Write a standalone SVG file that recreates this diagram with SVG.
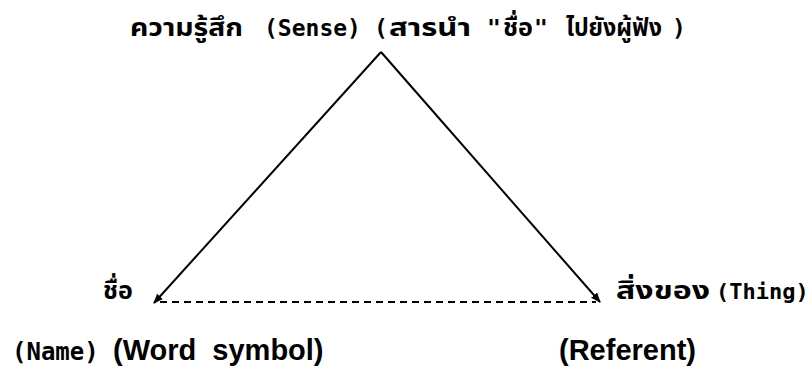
<svg xmlns="http://www.w3.org/2000/svg" width="812" height="367" viewBox="0 0 812 367">
<style>
.th{font-family:"Tlwg Typo","Tlwg Mono","Noto Sans Thai","Loma","DejaVu Sans Mono",sans-serif;font-weight:bold;font-size:25px;fill:#000}
.mo{font-family:"DejaVu Sans Mono","Liberation Mono",monospace;font-weight:bold;font-size:23px;fill:#000}
.ar{font-family:"Liberation Sans",Arial,sans-serif;font-weight:bold;font-size:29px;fill:#000;white-space:pre}
.ln{stroke:#000;stroke-width:2;fill:none}
.dash{stroke:#000;stroke-width:2;fill:none;stroke-dasharray:7 5}
</style>
<defs>
<marker id="ah" viewBox="0 0 10 10" refX="9" refY="5" markerWidth="5" markerHeight="5" orient="auto" markerUnits="strokeWidth">
<path d="M0,1 L10,5 L0,9 Z" fill="#000"/>
</marker>
</defs>
<rect width="812" height="367" fill="#fff"/>
<g id="connectors">
<path class="ln" d="M381,52 L154,303" marker-end="url(#ah)"/>
<path class="ln" d="M381,52 L600,302" marker-end="url(#ah)"/>
<path class="dash" d="M160,302 L596,302"/>
</g>
<g id="sense">
<text y="36"><tspan class="th" x="130" textLength="113" lengthAdjust="spacingAndGlyphs">ความรู้สึก</tspan><tspan class="mo" x="264">(Sense)</tspan><tspan class="mo" x="374">(</tspan><tspan class="th" x="389" textLength="82" lengthAdjust="spacingAndGlyphs">สารนำ</tspan><tspan class="mo" x="487">"</tspan><tspan class="th" x="503" textLength="30" lengthAdjust="spacingAndGlyphs">ชื่อ</tspan><tspan class="mo" x="534">"</tspan><tspan class="th" x="566" textLength="96" lengthAdjust="spacingAndGlyphs">ไปยังผู้ฟัง</tspan><tspan class="mo" x="672">)</tspan></text>
</g>
<g id="name">
<text class="th" x="103" y="299">ชื่อ</text>
<text class="mo" x="12" y="360" style="font-size:24px">(Name)</text>
<text class="ar" x="113" y="360">(Word  symbol)</text>
</g>
<g id="thing">
<text y="299"><tspan class="th" x="616" textLength="94" lengthAdjust="spacingAndGlyphs">สิ่งของ</tspan><tspan class="mo" x="716" style="font-size:22px">(Thing)</tspan></text>
<text class="ar" x="559" y="360">(Referent)</text>
</g>
</svg>
